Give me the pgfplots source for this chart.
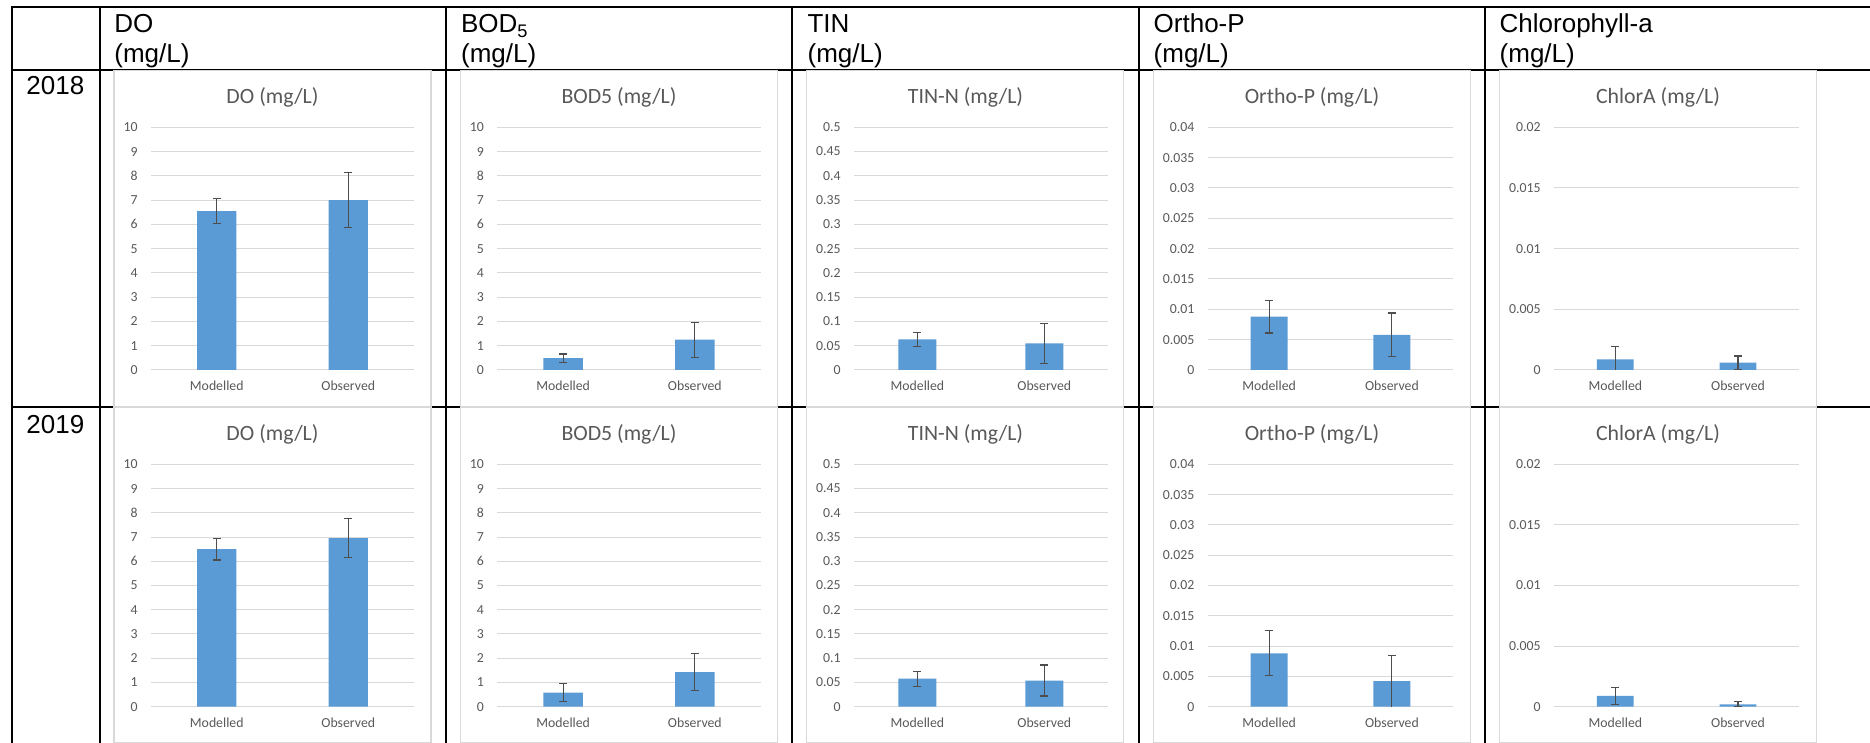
\documentclass[border=0pt]{standalone}
\usepackage{fontspec}
\setmainfont{Liberation Sans}
\newfontfamily\calib{Carlito}
\usepackage{pgfplots}
\pgfplotsset{compat=1.18}
\definecolor{barblue}{HTML}{5B9BD5}
\definecolor{txtgray}{HTML}{595959}
\definecolor{gridgray}{HTML}{D9D9D9}
\definecolor{errgray}{HTML}{4D4D4D}
\pgfplotsset{
  exbar/.style={
    scale only axis, anchor=south west,
    xmin=-0.5, xmax=1.5, ymin=0,
    xtick={0,1}, xticklabels={Modelled,Observed},
    scaled y ticks=false,
    /pgf/number format/assume math mode=true,
    axis line style={draw=none}, tick style={draw=none}, major tick length=0pt,
    ymajorgrids, grid style={draw=gridgray, line width=0.5pt},
    ticklabel style={font=\calib\fontsize{6.9}{8}\selectfont, text=txtgray},
    yticklabel style={anchor=east, inner sep=0pt, xshift=-6.5pt},
    xticklabel style={anchor=north, inner sep=0pt, yshift=-5.5pt},
    ybar, bar width=0.3,
  },
  exdata/.style={fill=barblue, draw=none,
    error bars/.cd, y dir=both, y explicit,
    error bar style={color=errgray, line width=0.55pt},
    error mark options={rotate=90, mark size=2pt, line width=0.55pt, color=errgray}},
  doax/.style={ymax=10, ytick={0,1,2,3,4,5,6,7,8,9,10},
     yticklabels={0,1,2,3,4,5,6,7,8,9,10}},
  tinax/.style={ymax=0.5, ytick={0,0.05,0.1,0.15,0.2,0.25,0.3,0.35,0.4,0.45,0.5},
     yticklabels={0,0.05,0.1,0.15,0.2,0.25,0.3,0.35,0.4,0.45,0.5}},
  opax/.style={ymax=0.04, ytick={0,0.005,0.01,0.015,0.02,0.025,0.03,0.035,0.04},
     yticklabels={0,0.005,0.01,0.015,0.02,0.025,0.03,0.035,0.04}},
  chax/.style={ymax=0.02, ytick={0,0.005,0.01,0.015,0.02},
     yticklabels={0,0.005,0.01,0.015,0.02}},
}
\newcommand\hfont{\fontsize{13}{15}\selectfont}
\newcommand\tfont{\calib\fontsize{10.9}{13}\selectfont}
\begin{document}
\begin{tikzpicture}[x=1pt,y=1pt]
\path[use as bounding box] (0pt,0pt) rectangle (935pt,371.5pt);
% table lines
\begin{scope}[line width=1.1pt, black]
\draw (6pt,368pt) -- (935pt,368pt);
\draw (6pt,336.5pt) -- (935pt,336.5pt);
\draw (6pt,168pt) -- (935pt,168pt);
\foreach \xx in {6,50,223,396,569.5,742.5} {\draw (\xx pt,368.55pt) -- (\xx pt,0pt);}
\end{scope}
% chart frames
\foreach \fx in {57,230.35,403.35,576.65,749.65} {
  \draw[gridgray, fill=white, line width=0.6pt] (\fx pt,336.1pt) rectangle (\fx pt+158.5pt,168.2pt);
  \draw[gridgray, fill=white, line width=0.6pt] (\fx pt,167.9pt) rectangle (\fx pt+158.5pt,0.4pt);
}
% header text
\node[anchor=base west, inner sep=0pt, font=\hfont] at (57pt,355pt) {DO};
\node[anchor=base west, inner sep=0pt, font=\hfont] at (57pt,340pt) {(mg/L)};
\node[anchor=base west, inner sep=0pt, font=\hfont] at (230.35pt,355pt) {BOD\textsubscript{5}};
\node[anchor=base west, inner sep=0pt, font=\hfont] at (230.35pt,340pt) {(mg/L)};
\node[anchor=base west, inner sep=0pt, font=\hfont] at (403.6pt,355pt) {TIN};
\node[anchor=base west, inner sep=0pt, font=\hfont] at (403.6pt,340pt) {(mg/L)};
\node[anchor=base west, inner sep=0pt, font=\hfont] at (576.65pt,355pt) {Ortho-P};
\node[anchor=base west, inner sep=0pt, font=\hfont] at (576.65pt,340pt) {(mg/L)};
\node[anchor=base west, inner sep=0pt, font=\hfont] at (749.65pt,355pt) {Chlorophyll-a};
\node[anchor=base west, inner sep=0pt, font=\hfont] at (749.65pt,340pt) {(mg/L)};
\node[anchor=base west, inner sep=0pt, font=\hfont] at (13pt,324pt) {2018};
\node[anchor=base west, inner sep=0pt, font=\hfont] at (13pt,154.9pt) {2019};
% chart titles
\foreach \cx/\tt in {136.25/{DO (mg/L)},309.5/{BOD5 (mg/L)},482.75/{TIN-N (mg/L)},656/{Ortho-P (mg/L)},829/{ChlorA (mg/L)}} {
  \node[anchor=base, inner sep=0pt, font=\tfont, text=txtgray] at (\cx pt,319.5pt) {\tt};
  \node[anchor=base, inner sep=0pt, font=\tfont, text=txtgray] at (\cx pt,151.15pt) {\tt};
}
% ---------- 2018 ----------
\begin{axis}[exbar, doax, at={(75.5pt,186.5pt)}, width=131.5pt, height=121.35pt]
\addplot[exdata] coordinates {(0,6.55) +- (0,0.53) (1,7.0) +- (0,1.14)};
\end{axis}
\begin{axis}[exbar, doax, at={(248.65pt,186.5pt)}, width=131.7pt, height=121.35pt]
\addplot[exdata] coordinates {(0,0.49) +- (0,0.17) (1,1.25) +- (0,0.72)};
\end{axis}
\begin{axis}[exbar, tinax, at={(427pt,186.5pt)}, width=126.85pt, height=121.35pt]
\addplot[exdata] coordinates {(0,0.063) +- (0,0.0145) (1,0.055) +- (0,0.041)};
\end{axis}
\begin{axis}[exbar, opax, at={(603.85pt,186.5pt)}, width=122.8pt, height=121.35pt]
\addplot[exdata] coordinates {(0,0.0088) +- (0,0.0027) (1,0.0058) +- (0,0.0036)};
\end{axis}
\begin{axis}[exbar, chax, at={(777pt,186.5pt)}, width=122.65pt, height=121.35pt]
\addplot[exdata] coordinates {(0,0.00088) +- (0,0.00104) (1,0.0006) +- (0,0.00055)};
\end{axis}
% ---------- 2019 ----------
\begin{axis}[exbar, doax, at={(75.5pt,18.15pt)}, width=131.5pt, height=121.2pt]
\addplot[exdata] coordinates {(0,6.5) +- (0,0.45) (1,6.95) +- (0,0.8)};
\end{axis}
\begin{axis}[exbar, doax, at={(248.65pt,18.15pt)}, width=131.7pt, height=121.2pt]
\addplot[exdata] coordinates {(0,0.58) +- (0,0.37) (1,1.43) +- (0,0.77)};
\end{axis}
\begin{axis}[exbar, tinax, at={(427pt,18.15pt)}, width=126.85pt, height=121.2pt]
\addplot[exdata] coordinates {(0,0.058) +- (0,0.0155) (1,0.054) +- (0,0.032)};
\end{axis}
\begin{axis}[exbar, opax, at={(603.85pt,18.15pt)}, width=122.8pt, height=121.2pt]
\addplot[exdata] coordinates {(0,0.0088) +- (0,0.0037) (1,0.0042) +- (0,0.0043)};
\end{axis}
\begin{axis}[exbar, chax, at={(777pt,18.15pt)}, width=122.65pt, height=121.2pt]
\addplot[exdata] coordinates {(0,0.0009) +- (0,0.0007) (1,0.0002) +- (0,0.0002)};
\end{axis}
\end{tikzpicture}
\end{document}
